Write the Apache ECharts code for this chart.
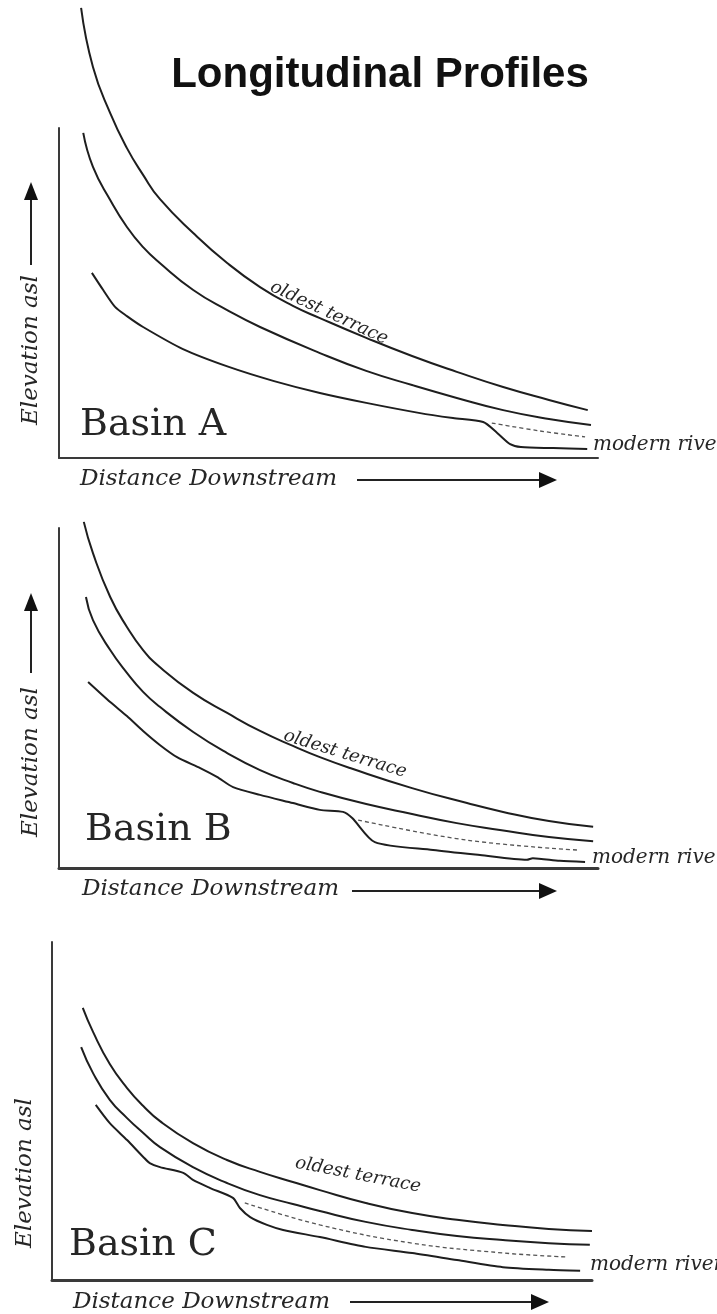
<!DOCTYPE html>
<html><head><meta charset="utf-8">
<script src="https://cdn.jsdelivr.net/npm/echarts@6/dist/echarts.min.js"></script>
<style>html,body{margin:0;padding:0;background:#fff}#c{width:717px;height:1314px}</style>
</head><body><div id="c"></div>
<script>
// Distance downstream (0-100) vs elevation asl (0-100), arbitrary units per basin
const basinNames = ['Basin A', 'Basin B', 'Basin C'];

const oldestTerraceA = [[4.1,136.4],[6.3,118.5],[9.5,104.5],[12.6,93.9],[15.6,85.8],[18.7,78.5],[24.9,68.2],[31.2,59.1],[37.3,51.8],[43.4,46.1],[48.4,42.4],[57.0,36.4],[65.5,30.9],[73.8,26.1],[82.4,21.5],[90.9,17.6],[98.1,14.5]];
const youngTerraceA = [[4.5,98.5],[6.3,88.2],[9.5,78.2],[12.6,70.0],[15.6,63.9],[18.7,59.1],[24.9,50.9],[31.2,44.8],[37.3,39.7],[48.4,31.8],[57.0,26.4],[65.5,22.1],[73.8,18.2],[82.4,14.5],[90.9,11.8],[98.7,10.0]];
const modernRiverA = [[6.1,56.1],[8.2,50.9],[10.4,45.8],[12.6,43.0],[15.6,39.7],[23.0,33.0],[31.5,27.6],[39.9,23.3],[48.4,19.7],[57.0,16.7],[67.0,13.6],[73.1,12.1],[78.7,10.9],[81.3,7.6],[83.7,4.2],[85.7,3.3],[91.7,3.0],[98.0,2.7]];
const formerRiverA = [[80.3,10.6],[89.2,8.2],[97.6,6.4]];

const oldestTerraceB = [[4.6,101.8],[6.3,92.6],[9.5,79.7],[12.6,70.9],[15.6,64.1],[18.7,59.1],[24.9,51.5],[31.2,45.6],[37.3,40.3],[43.4,35.9],[48.4,32.6],[54.0,29.4],[65.5,23.5],[75.7,19.1],[82.4,16.5],[90.9,13.8],[99.1,12.1]];
const youngTerraceB = [[5.0,79.7],[6.3,72.9],[9.5,64.1],[12.6,57.4],[15.6,51.8],[18.7,47.4],[24.9,40.0],[31.2,33.8],[37.3,28.8],[43.4,25.0],[48.4,22.4],[57.0,18.8],[65.5,15.9],[73.8,13.2],[81.8,11.2],[90.9,9.1],[99.1,7.9]];
const modernRiverB = [[5.4,54.7],[9.5,48.8],[12.6,44.7],[15.6,40.3],[18.7,36.2],[21.9,32.6],[26.2,29.4],[29.3,26.8],[32.3,23.8],[37.3,21.5],[43.4,19.1],[48.4,17.1],[52.7,16.5],[54.4,14.7],[58.6,7.6],[69.4,5.3],[78.1,3.8],[86.8,2.4],[87.9,2.9],[92.9,2.1],[97.6,1.8]];
const formerRiverB = [[55.5,14.1],[75.7,8.2],[96.1,5.3]];

const oldestTerraceC = [[5.7,80.5],[7.6,73.4],[10.7,63.9],[13.9,56.8],[16.9,51.5],[20.0,47.0],[26.1,40.5],[32.4,35.5],[38.5,32.0],[44.6,29.0],[49.6,26.6],[58.1,22.8],[66.7,19.8],[75.0,17.8],[83.5,16.3],[92.0,15.1],[100,14.5]];
const youngTerraceC = [[5.4,68.9],[7.6,61.2],[10.7,53.3],[13.9,47.9],[16.9,43.5],[20.0,39.3],[26.1,33.4],[32.4,28.7],[38.5,25.1],[44.6,22.5],[49.6,20.4],[58.1,17.2],[66.7,14.8],[75.0,13.0],[83.5,11.8],[92.0,10.9],[99.6,10.4]];
const modernRiverC = [[8.1,51.8],[10.7,46.4],[13.9,41.4],[16.9,36.4],[18.1,34.6],[20.0,33.4],[24.3,31.7],[26.1,29.6],[29.3,27.2],[33.5,24.3],[34.8,21.3],[36.7,18.6],[39.8,16.3],[42.8,14.8],[49.6,12.7],[58.1,9.8],[66.7,8.0],[75.0,5.9],[83.5,3.8],[92.0,3.0],[97.8,2.7]];
const formerRiverC = [[35.7,22.8],[49.6,16.3],[66.7,10.9],[83.5,8.0],[95.4,6.8]];

const terracesOld = [oldestTerraceA, oldestTerraceB, oldestTerraceC];
const terracesYoung = [youngTerraceA, youngTerraceB, youngTerraceC];
const riversModern = [modernRiverA, modernRiverB, modernRiverC];
const riversFormer = [formerRiverA, formerRiverB, formerRiverC];

const chart = echarts.init(document.getElementById('c'), null, {renderer: 'canvas'});

const gridBoxes = [
  {left: 59, top: 128, width: 539, height: 330},
  {left: 59, top: 528, width: 539, height: 340},
  {left: 52, top: 942, width: 540, height: 338}
];
const axisW = [2, 3, 3];

const grid = gridBoxes.map(g => Object.assign({containLabel: false}, g));
const xAxis = gridBoxes.map((g, i) => ({
  type: 'value', gridIndex: i, min: 0, max: 100,
  axisLine: {show: true, onZero: false, lineStyle: {color: '#3a3a3a', width: axisW[i]}},
  axisTick: {show: false}, axisLabel: {show: false}, splitLine: {show: false}
}));
const yAxis = gridBoxes.map((g, i) => ({
  type: 'value', gridIndex: i, min: 0, max: 100,
  axisLine: {show: true, onZero: false, lineStyle: {color: '#3a3a3a', width: 2}},
  axisTick: {show: false}, axisLabel: {show: false}, splitLine: {show: false}
}));

const series = [];
for (let i = 0; i < 3; i++) {
  const base = {type: 'line', xAxisIndex: i, yAxisIndex: i, symbol: 'none', clip: false, silent: true, animation: false};
  series.push(Object.assign({}, base, {name: 'oldest terrace ' + basinNames[i], data: terracesOld[i], smooth: 0.5,
    lineStyle: {color: '#1e1e1e', width: 2}}));
  series.push(Object.assign({}, base, {name: 'terrace ' + basinNames[i], data: terracesYoung[i], smooth: 0.5,
    lineStyle: {color: '#1e1e1e', width: 2}}));
  series.push(Object.assign({}, base, {name: 'modern river ' + basinNames[i], data: riversModern[i], smooth: 0.25,
    lineStyle: {color: '#1e1e1e', width: 2}}));
  series.push(Object.assign({}, base, {name: 'former river ' + basinNames[i], data: riversFormer[i], smooth: 0.4,
    lineStyle: {color: '#555', width: 1.3, type: [4, 3]}}));
}

const serifI = 'italic 23px "DejaVu Serif"';
function txt(text, x, y, font, opts) {
  return Object.assign({type: 'text', x: x, y: y, silent: true,
    style: Object.assign({text: text, font: font, fill: '#262626', align: 'left', verticalAlign: 'middle'}, (opts && opts.style) || {})},
    opts && opts.rotation !== undefined ? {rotation: opts.rotation} : {});
}
function hArrow(x0, x1, y) {
  return [
    {type: 'line', silent: true, shape: {x1: x0, y1: y, x2: x1 - 14, y2: y}, style: {stroke: '#222', lineWidth: 2}},
    {type: 'polygon', silent: true, shape: {points: [[x1, y], [x1 - 18, y - 8], [x1 - 18, y + 8]]}, style: {fill: '#111'}}
  ];
}
function vArrow(x, y0, y1) {
  return [
    {type: 'line', silent: true, shape: {x1: x, y1: y0, x2: x, y2: y1 + 14}, style: {stroke: '#222', lineWidth: 2}},
    {type: 'polygon', silent: true, shape: {points: [[x, y1], [x - 7, y1 + 18], [x + 7, y1 + 18]]}, style: {fill: '#111'}}
  ];
}

const graphics = [
  txt('Longitudinal Profiles', 380, 75, 'bold 42px "Liberation Sans"', {style: {align: 'center', fill: '#111'}}),
  // Basin A
  txt('Basin A', 80, 425, '38px "DejaVu Serif"'),
  txt('Distance Downstream', 80, 479, serifI),
  ...hArrow(357, 557, 480),
  txt('Elevation asl', 31, 350, serifI, {style: {align: 'center'}, rotation: Math.PI / 2}),
  ...vArrow(31, 265, 182),
  txt('modern river', 593, 445, 'italic 20px "DejaVu Serif"'),
  txt('oldest terrace', 329, 313, 'italic 18px "DejaVu Serif"', {style: {align: 'center'}, rotation: -25 * Math.PI / 180}),
  // Basin B
  txt('Basin B', 85, 830, '38px "DejaVu Serif"'),
  txt('Distance Downstream', 82, 889, serifI),
  ...hArrow(352, 557, 891),
  txt('Elevation asl', 31, 762, serifI, {style: {align: 'center'}, rotation: Math.PI / 2}),
  ...vArrow(31, 673, 593),
  txt('modern river', 592, 858, 'italic 20px "DejaVu Serif"'),
  txt('oldest terrace', 345, 754, 'italic 18px "DejaVu Serif"', {style: {align: 'center'}, rotation: -17 * Math.PI / 180}),
  // Basin C
  txt('Basin C', 69, 1245, '38px "DejaVu Serif"'),
  txt('Distance Downstream', 73, 1302, serifI),
  ...hArrow(350, 549, 1302),
  txt('Elevation asl', 25, 1173, serifI, {style: {align: 'center'}, rotation: Math.PI / 2}),
  txt('modern river', 590, 1265, 'italic 20px "DejaVu Serif"'),
  txt('oldest terrace', 358, 1175, 'italic 18px "DejaVu Serif"', {style: {align: 'center'}, rotation: -11 * Math.PI / 180})
];

chart.setOption({
  animation: false,
  backgroundColor: '#ffffff',
  grid: grid,
  xAxis: xAxis,
  yAxis: yAxis,
  series: series,
  graphic: graphics
});
</script>
</body></html>
